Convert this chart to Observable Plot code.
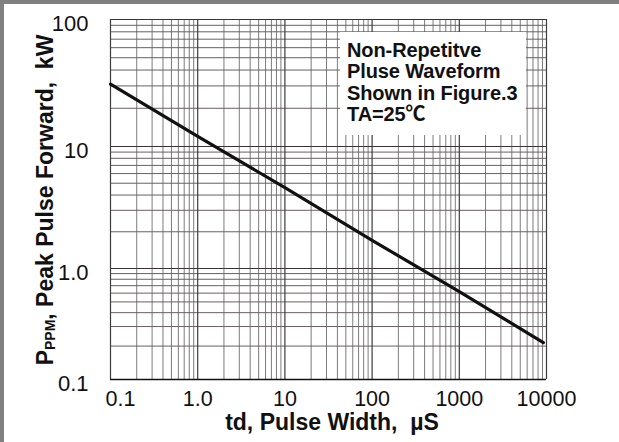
<!DOCTYPE html>
<html>
<head>
<meta charset="utf-8">
<script src="https://cdn.jsdelivr.net/npm/d3@7"></script>
<script src="https://cdn.jsdelivr.net/npm/@observablehq/plot@0.6"></script>
<style>
  html, body { margin: 0; padding: 0; background: #fff; }
  #wrap { position: relative; width: 619px; height: 442px; overflow: hidden; font-family: "Liberation Sans", Arial, Helvetica, sans-serif; }
  #border { position: absolute; left: 0; top: 0; width: 619px; height: 442px; box-sizing: border-box;
            border-top: 4px solid #808080; border-left: 4px solid #808080; pointer-events: none; }
  #note { position: absolute; left: 340px; top: 32px; width: 186px; height: 103px; background: #fff;
          box-sizing: border-box; padding: 8px 0 0 7px; font-weight: bold; font-size: 20px; line-height: 21.4px; color: #111;
          font-family: "Liberation Sans", Arial, "Noto Sans CJK SC", sans-serif; white-space: nowrap; letter-spacing: -0.1px; }
</style>
</head>
<body>
<div id="wrap"></div>
<script>
// ---- data ----
const pulseWidth = [0.1, 1, 10, 100, 1000, 9200];          // td, µS
const peakPower  = [31, 12, 4.6, 1.7, 0.62, 0.215];        // PPPM, kW

const xTicks = [0.1, 1, 10, 100, 1000, 10000];
const xTickLabels = ["0.1", "1.0", "10", "100", "1000", "10000"];
const yTicks = [0.1, 1, 10, 100];
const yTickLabels = ["0.1", "1.0", "10", "100"];

const xMinor = [0.2, 0.3, 0.4, 0.5, 0.6, 0.7, 0.8, 0.9,
                2, 3, 4, 5, 6, 7, 8, 9,
                20, 30, 40, 50, 60, 70, 80, 90,
                200, 300, 400, 500, 600, 700, 800, 900,
                2000, 3000, 4000, 5000, 6000, 7000, 8000, 9000];
const yMinor = [0.2, 0.3, 0.4, 0.5, 0.6, 0.7, 0.8, 0.9,
                2, 3, 4, 5, 6, 7, 8, 9,
                20, 30, 40, 50, 60, 70, 80, 90];

const noteLines = ["Non-Repetitve", "Pluse Waveform", "Shown in Figure.3", "TA=25\u2103"];
const xTitle = "td, Pulse Width,  \u00B5S";
const yTitleMain = "P", yTitleSub = "PPM", yTitleRest = ", Peak Pulse Forward,  kW";

const curve = pulseWidth.map((t, i) => ({t, p: peakPower[i]}));

const fontFamily = '"Liberation Sans", Arial, Helvetica, sans-serif';

const svg = Plot.plot({
  width: 619,
  height: 442,
  marginLeft: 110,
  marginRight: 73,
  marginTop: 19,
  marginBottom: 63,
  style: {fontFamily, background: "transparent", color: "#111"},
  x: {type: "log", domain: [0.1, 10000], label: null},
  y: {type: "log", domain: [0.1, 1, 10, 100], range: [379, 268, 146, 19], label: null},
  marks: [
    Plot.ruleX(xMinor, {stroke: "#7c7c7c", strokeWidth: 1}),
    Plot.ruleY(yMinor, {stroke: "#6a6060", strokeWidth: 1}),
    Plot.ruleX(xTicks, {stroke: "#3c3c3c", strokeWidth: 1.2}),
    Plot.ruleY(yTicks, {stroke: "#3c3535", strokeWidth: 1.2}),
    Plot.ruleY([0.1], {stroke: "#111", strokeWidth: 1.6}),
    Plot.line(curve, {x: "t", y: "p", stroke: "#111", strokeWidth: 3.2}),
    Plot.axisX(xTicks.slice(1), {tickSize: 0, tickPadding: 11, fontSize: 21.5, label: null,
      tickFormat: d => xTickLabels[xTicks.indexOf(d)]}),
    Plot.axisX(xTicks.slice(0, 1), {tickSize: 0, tickPadding: 11, fontSize: 21.5, label: null, dx: 10,
      tickFormat: d => xTickLabels[xTicks.indexOf(d)]}),
    Plot.axisY(yTicks, {tickSize: 0, tickPadding: 22, fontSize: 22, label: null, dy: 4,
      tickFormat: d => yTickLabels[yTicks.indexOf(d)]})
  ]
});

document.getElementById("wrap").appendChild(svg);

const s = d3.select(svg);
// x axis title
s.append("text")
  .attr("x", 332).attr("y", 430)
  .attr("text-anchor", "middle")
  .attr("font-size", 23).attr("font-weight", "bold")
  .attr("fill", "#111")
  .text(xTitle);
// y axis title with subscript
const yt = s.append("text")
  .attr("transform", "translate(53,200) rotate(-90)")
  .attr("text-anchor", "middle")
  .attr("font-size", 23).attr("font-weight", "bold")
  .attr("fill", "#111");
yt.append("tspan").text(yTitleMain);
yt.append("tspan").attr("font-size", 14).attr("dy", 2).text(yTitleSub);
yt.append("tspan").attr("dy", -2).text(yTitleRest);

// annotation box
const note = document.createElement("div");
note.id = "note";
noteLines.forEach(l => { const d = document.createElement("div"); d.textContent = l; note.appendChild(d); });
document.getElementById("wrap").appendChild(note);

const border = document.createElement("div");
border.id = "border";
document.getElementById("wrap").appendChild(border);
</script>
</body>
</html>
